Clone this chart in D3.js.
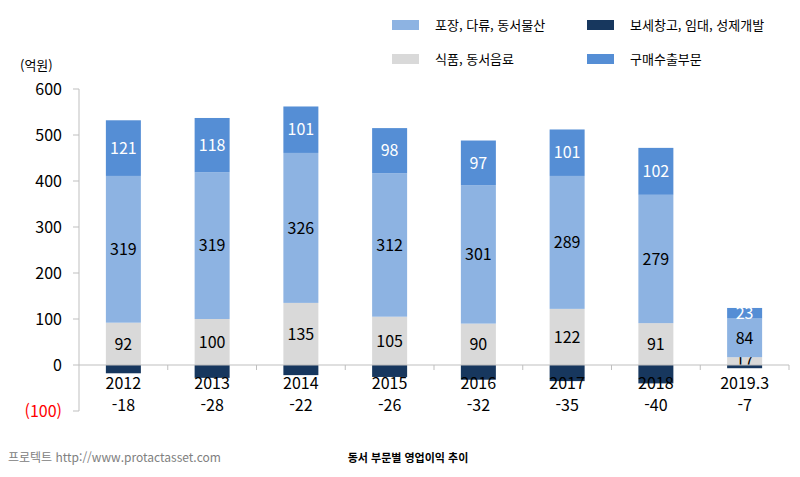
<!DOCTYPE html>
<html lang="ko">
<head>
<meta charset="utf-8">
<script src="https://d3js.org/d3.v7.min.js"></script>
<style>
body{margin:0;background:#fff;font-family:"Noto Sans CJK KR","Noto Sans",sans-serif;}
</style>
</head>
<body>
<script>
// data
const years = ["2012", "2013", "2014", "2015", "2016", "2017", "2018", "2019.3"];
const boseo = [-18, -28, -22, -26, -32, -35, -40, -7];
const food = [92, 100, 135, 105, 90, 122, 91, 17];
const pack = [319, 319, 326, 312, 301, 289, 279, 84];
const buy = [121, 118, 101, 98, 97, 101, 102, 23];
const yTicks = [-100, 0, 100, 200, 300, 400, 500, 600];

const width = 800, height = 477;
const svg = d3.select("body").append("svg").attr("width", width).attr("height", height);

const x = d3.scaleBand().domain(years).range([79, 789]);
const y = d3.scaleLinear().domain([-100, 600]).range([411, 89]);
const bw = 35;

// y axis
svg.append("line").attr("x1", 79).attr("x2", 79).attr("y1", y(600)).attr("y2", y(-100)).attr("stroke", "#bfbfbf");
yTicks.forEach(t => {
  svg.append("line").attr("x1", 73).attr("x2", 79).attr("y1", y(t)).attr("y2", y(t)).attr("stroke", "#bfbfbf");
  svg.append("text").attr("x", 62).attr("y", y(t)).attr("dy", "0.35em").attr("text-anchor", "end")
    .attr("font-size", 16).attr("fill", t < 0 ? "#ff0000" : "#000")
    .text(t < 0 ? "(" + (-t) + ")" : t);
});
svg.append("text").attr("x", 20).attr("y", 70).attr("font-size", 13).text("(억원)");

// stacked bars
const series = [
  {vals: food, base: i => 0, color: "#d9d9d9", txt: "#000"},
  {vals: pack, base: i => food[i], color: "#8db3e2", txt: "#000"},
  {vals: buy, base: i => food[i] + pack[i], color: "#558ed5", txt: "#fff"}
];
series.forEach(s => {
  s.vals.forEach((v, i) => {
    const cx = x(years[i]) + x.bandwidth() / 2;
    const b = s.base(i);
    svg.append("rect").attr("x", cx - bw / 2).attr("y", y(b + v)).attr("width", bw)
      .attr("height", y(b) - y(b + v)).attr("fill", s.color);
    svg.append("text").attr("x", cx).attr("y", y(b + v / 2)).attr("dy", "0.36em")
      .attr("text-anchor", "middle").attr("font-size", 16).attr("fill", s.txt).text(v);
  });
});
boseo.forEach((v, i) => {
  const cx = x(years[i]) + x.bandwidth() / 2;
  svg.append("rect").attr("x", cx - bw / 2).attr("y", y(0)).attr("width", bw)
    .attr("height", y(v) - y(0)).attr("fill", "#17375e");
});

// zero line
svg.append("line").attr("x1", 79).attr("x2", 789).attr("y1", y(0)).attr("y2", y(0)).attr("stroke", "#bfbfbf");
years.forEach((c, i) => {
  const tx = x(c) + x.bandwidth();
  svg.append("line").attr("x1", tx).attr("x2", tx).attr("y1", y(0)).attr("y2", y(0) + 5).attr("stroke", "#bfbfbf");
  const cx = x(c) + x.bandwidth() / 2;
  svg.append("text").attr("x", cx).attr("y", 389).attr("text-anchor", "middle").attr("font-size", 16).text(c);
  svg.append("text").attr("x", cx).attr("y", 411).attr("text-anchor", "middle").attr("font-size", 16).text(boseo[i]);
});

// legend
const legend = [
  {name: "포장, 다류, 동서물산", color: "#8db3e2", x: 392, y: 25},
  {name: "보세창고, 임대, 성제개발", color: "#17375e", x: 587, y: 25},
  {name: "식품, 동서음료", color: "#d9d9d9", x: 392, y: 59},
  {name: "구매수출부문", color: "#558ed5", x: 587, y: 59}
];
legend.forEach(l => {
  svg.append("rect").attr("x", l.x).attr("y", l.y - 5).attr("width", 27).attr("height", 10).attr("fill", l.color);
  svg.append("text").attr("x", l.x + 43).attr("y", l.y).attr("dy", "0.35em").attr("font-size", 13).text(l.name);
});

// footer
svg.append("text").attr("x", 8).attr("y", 462).attr("font-size", 12).attr("fill", "#808080").text("프로텍트 http://www.protactasset.com");
svg.append("text").attr("x", 408).attr("y", 462).attr("text-anchor", "middle").attr("font-size", 11).attr("font-weight", "bold").text("동서 부문별 영업이익 추이");
</script>
</body>
</html>
